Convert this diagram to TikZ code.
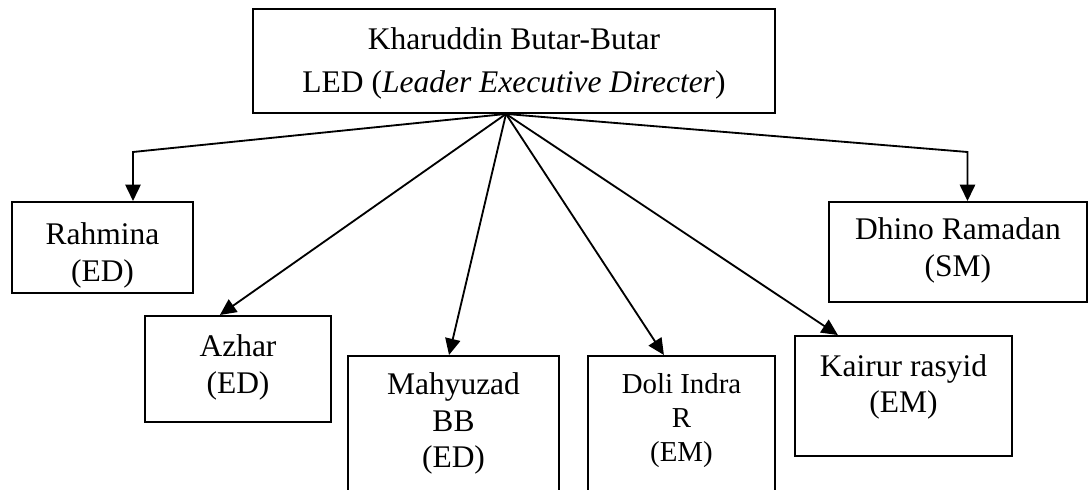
\documentclass[tikz,border=0pt]{standalone}
\usepackage{fontspec}
\setmainfont{Liberation Serif}
\usetikzlibrary{arrows.meta}
\begin{document}
\begin{tikzpicture}[x=0.381pt,y=-0.381pt,
  box/.style={draw, line width=0.75pt, rectangle, inner sep=0pt},
  txt/.style={anchor=north, inner sep=0pt, align=center, font=\fontsize{12}{13.9}\selectfont},
  arr/.style={line width=0.7pt, -{Triangle[length=6.2pt,width=5.8pt]}}]
\useasboundingbox (0,0) rectangle (1089,490);
\clip (0,0) rectangle (1089,490);
% boxes
\node[box, minimum width=198.9pt, minimum height=39.6pt] (top) at (514,61) {};
\node[box, minimum width=69.0pt, minimum height=34.7pt] (rah) at (102.5,247.5) {};
\node[box, minimum width=70.9pt, minimum height=40.4pt] (azh) at (238,369) {};
\node[box, minimum width=80.4pt, minimum height=58.7pt] (mah) at (453.5,433) {};
\node[box, minimum width=71.2pt, minimum height=58.7pt] (doli) at (681.5,433) {};
\node[box, minimum width=82.7pt, minimum height=45.7pt] (kai) at (903.5,396) {};
\node[box, minimum width=98.3pt, minimum height=38.1pt] (dhi) at (958,252) {};
% texts
\node[txt, font=\fontsize{12}{16.4}\selectfont] (topT) at ([yshift=-7.4pt]top.north) {Kharuddin Butar-Butar\\LED (\textit{Leader Executive Directer})};
\node[txt] (rahT) at ([yshift=-8.2pt]rah.north) {Rahmina\\(ED)};
\node[txt] (azhT) at ([yshift=-7.4pt]azh.north) {Azhar\\(ED)};
\node[txt] (mahT) at ([yshift=-6.7pt]mah.north) {Mahyuzad\\BB\\(ED)};
\node[txt, font=\fontsize{11}{12.8}\selectfont] (doliT) at ([yshift=-7pt]doli.north) {Doli Indra\\R\\(EM)};
\node[txt] (kaiT) at ([yshift=-7.2pt]kai.north) {Kairur rasyid\\(EM)};
\node[txt] (dhiT) at ([yshift=-6.3pt]dhi.north) {Dhino Ramadan\\(SM)};
% connectors
\coordinate (hub) at ([xshift=-3.05pt]top.south);
\coordinate (rahK) at (133,152);
\coordinate (dhiK) at (967.5,152);
\draw[arr] (hub) -- (rahK) -- (rahK |- rah.north);
\draw[arr] (hub) -- (dhiK) -- (dhiK |- dhi.north);
\draw[arr] (hub) -- ([xshift=-6.9pt]azh.north);
\draw[arr] (hub) -- ([xshift=-1.7pt]mah.north);
\draw[arr] (hub) -- ([xshift=-6.7pt]doli.north);
\draw[arr] (hub) -- ([xshift=-25pt]kai.north);
\end{tikzpicture}
\end{document}
